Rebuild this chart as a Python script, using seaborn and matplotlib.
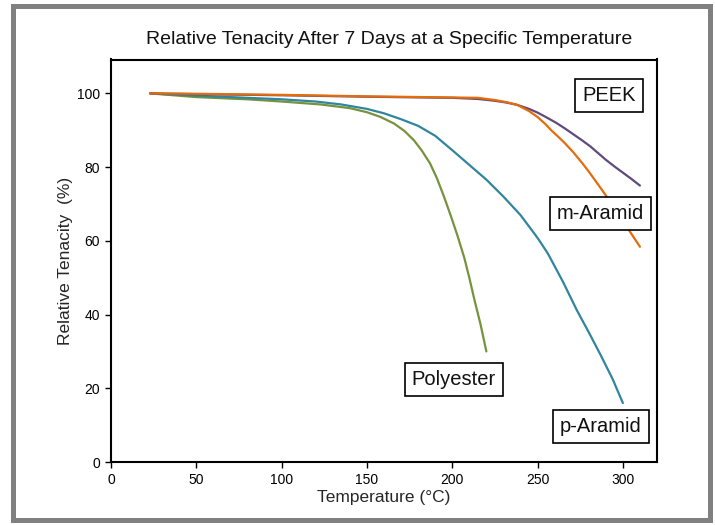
"""
Relative tenacity of fibres after 7 days at a given temperature.
"""

import matplotlib
matplotlib.use("Agg")
import matplotlib.pyplot as plt
from matplotlib.patches import Rectangle
import seaborn as sns
import pandas as pd

# Values (temperature in degC, relative tenacity in %)
peek_temp = [23, 50, 100, 150, 200, 215, 225, 232, 238, 245, 250, 256, 261, 266,
             271, 276, 281, 286, 290, 295, 300, 305, 310]
peek_val = [100, 99.8, 99.5, 99.1, 98.8, 98.5, 98, 97.5, 96.9, 95.8, 94.8, 93.3, 92, 90.5,
            88.9, 87.3, 85.6, 83.6, 82, 80.2, 78.5, 76.8, 75]

maramid_temp = [23, 50, 100, 150, 200, 215, 225, 232, 238, 245, 250, 255, 258, 262,
                266, 271, 276, 280, 285, 289, 295, 300, 305, 310]
maramid_val = [100, 99.9, 99.6, 99.2, 98.9, 98.8, 98.2, 97.6, 96.9, 95.2, 93.6, 91.5, 90, 88.3,
               86.5, 84, 81.2, 78.8, 75.6, 73, 68.9, 65.4, 61.9, 58.4]

paramid_temp = [23, 50, 80, 100, 120, 135, 150, 160, 170, 180, 190, 200, 210, 220,
                230, 240, 250, 256, 265, 273, 280, 287, 294, 300]
paramid_val = [100, 99.4, 98.8, 98.4, 97.8, 97, 95.8, 94.6, 93, 91.2, 88.5, 84.6, 80.6, 76.6,
               72, 67, 60.8, 56.6, 48.8, 41.2, 35.2, 29, 22.5, 16]

polyester_temp = [23, 50, 80, 100, 123, 140, 150, 158, 166, 172, 177.5, 182, 187, 191,
                  195, 199, 203, 207, 210, 213, 216.5, 220]
polyester_val = [100, 99, 98.4, 97.8, 97, 96, 94.9, 93.6, 91.8, 89.8, 87.3, 84.6, 81, 77,
                 72.2, 67, 61.5, 55.5, 50, 44, 37.5, 30]

SERIES = [
    ("Polyester", polyester_temp, polyester_val, "#76923C"),
    ("p-Aramid", paramid_temp, paramid_val, "#31859C"),
    ("PEEK", peek_temp, peek_val, "#604A7B"),
    ("m-Aramid", maramid_temp, maramid_val, "#E46C0A"),
]

# label box positions (data coords)
LABELS = {
    "PEEK": (292, 99.5),
    "m-Aramid": (287, 67.3),
    "Polyester": (201, 22.5),
    "p-Aramid": (287, 9.6),
}

sns.set_style("white")
plt.rcParams['font.family'] = ['Liberation Sans', 'DejaVu Sans']

fig = plt.figure(figsize=(7.15, 5.25), dpi=100)
ax = fig.add_axes([111 / 715, 1 - 462 / 525, 546 / 715, 402.5 / 525])

for name, temps, vals, color in SERIES:
    df = pd.DataFrame({'temp': temps, 'val': vals})
    sns.lineplot(data=df, x='temp', y='val', color=color, linewidth=1.6,
                 sort=False, estimator=None, ax=ax)

for name, (x, y) in LABELS.items():
    ax.text(x, y, name, fontsize=14.5, ha='center', va='center', color='#111111',
            bbox=dict(boxstyle='square,pad=0.35', fc='white', ec='black', lw=1.2))

ax.set_xlim(0, 320)
ax.set_ylim(0, 109.2)
ax.set_xticks(range(0, 301, 50))
ax.set_yticks(range(0, 101, 20))
ax.tick_params(axis='both', direction='out', length=4, width=1, labelsize=10,
               colors='black', pad=4)
ax.tick_params(left=True, bottom=True)
for sp in ax.spines.values():
    sp.set_visible(True)
    sp.set_color('black')
    sp.set_linewidth(1.5)

ax.set_xlabel('Temperature (°C)', fontsize=12.5, labelpad=2)
ax.set_ylabel('Relative Tenacity  (%)', fontsize=12.5, labelpad=3)

fig.text(389 / 715, 1 - 39 / 525, 'Relative Tenacity After 7 Days at a Specific Temperature',
         fontsize=14, ha='center', va='center', color='#111111')

# grey frame around the whole picture
fig.add_artist(Rectangle((12.5 / 715, 1 - 519.5 / 525), 697 / 715, 514 / 525,
                         transform=fig.transFigure, fill=False, ec='#808080', lw=3.6))

fig.savefig('out.png', dpi=100, facecolor='white')
plt.close(fig)
